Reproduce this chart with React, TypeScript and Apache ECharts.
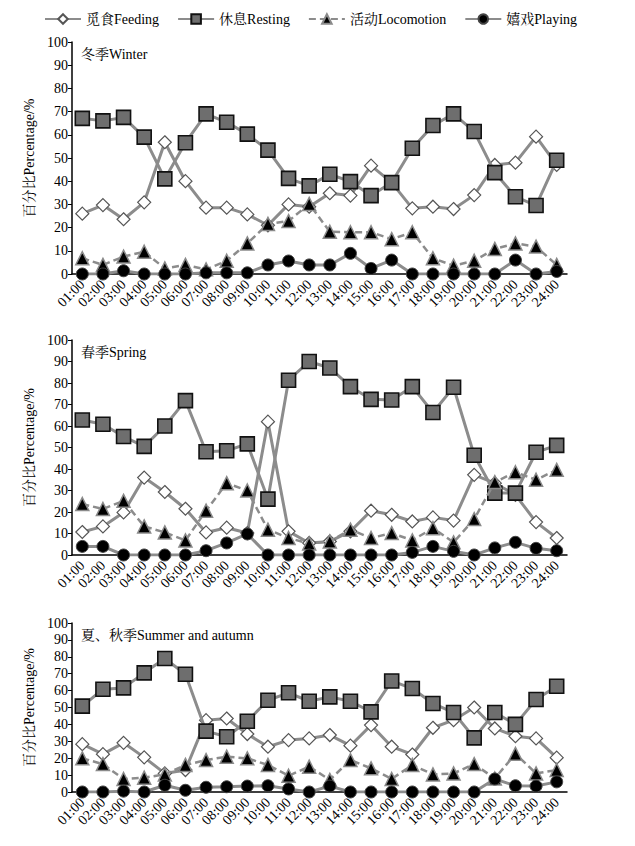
import React, { useEffect, useRef } from "react";
import * as echarts from "echarts";

const hours = ["01:00","02:00","03:00","04:00","05:00","06:00","07:00","08:00","09:00","10:00","11:00","12:00","13:00","14:00","15:00","16:00","17:00","18:00","19:00","20:00","21:00","22:00","23:00","24:00"];
const yTicks = [0, 10, 20, 30, 40, 50, 60, 70, 80, 90, 100];
const seriesNames = ["觅食Feeding", "休息Resting", "活动Locomotion", "嬉戏Playing"];
const panelTitles = ["冬季Winter", "春季Spring", "夏、秋季Summer and autumn"];
const yAxisName = "百分比Percentage/%";

const winterFeeding = [26, 29.7, 23.6, 30.9, 56.8, 40, 28.6, 28.6, 25.7, 21, 30, 29, 34.8, 33.8, 46.7, 39.4, 28.3, 29, 28, 34, 47, 48, 59.2, 47];
const winterResting = [67.1, 66, 67.5, 59, 41, 56.6, 69, 65.4, 60.3, 53.4, 41.2, 38, 43, 39.8, 33.8, 39.4, 54.2, 64, 69, 61.4, 43.7, 33.3, 29.5, 49];
const winterLocomotion = [6.8, 3.9, 7.5, 9.6, 2.4, 3.9, 2, 5.7, 13.2, 21.6, 22.8, 30.2, 18.2, 18, 18, 15, 18, 6.8, 3.6, 5.7, 10.8, 13.2, 11.8, 3.9];
const winterPlaying = [0, 0, 1.4, 0, 0, 0, 0.5, 0.5, 0.5, 3.9, 5.6, 3.9, 3.9, 8.9, 2.4, 6, 0, 0, 0, 0, 0, 6, 0, 1.1];

const springFeeding = [10.7, 13.3, 19.8, 36, 29.3, 21.5, 10.5, 12.7, 10.2, 62, 11, 5.6, 6.3, 11, 20.6, 18.7, 15.6, 17.5, 16, 37.3, 33.4, 28, 15.3, 7.9];
const springResting = [62.8, 60.8, 55.1, 50.5, 60, 71.8, 48, 48.5, 51.7, 26, 81.3, 90, 87, 78.3, 72.4, 72.1, 78.3, 66.3, 78, 46.4, 28.8, 28.8, 47.8, 51];
const springLocomotion = [23.7, 21.4, 25.2, 13.3, 10.5, 6.8, 20.6, 33.4, 30, 11.8, 7.9, 5.3, 6.3, 11.8, 7.9, 10.2, 6.8, 12.5, 5.9, 16.7, 33.9, 38.5, 35, 39.6];
const springPlaying = [4, 4, 0, 0, 0, 0, 2, 5.6, 9.8, 0, 0, 0, 0, 0, 0, 0, 1.2, 4, 1.7, 0, 3.3, 5.9, 3.1, 2];

const summerFeeding = [28.3, 22.4, 29.1, 20.5, 11, 13, 42.5, 43.5, 34.3, 26.8, 30.7, 31.7, 33.7, 27.4, 39.6, 26.8, 22.2, 38, 42.5, 50, 37.6, 33, 31.7, 20.3];
const summerResting = [50.8, 60.8, 61.6, 70.5, 79, 69.7, 36, 32.7, 41.9, 54.3, 58.7, 53.7, 56.3, 53.7, 47.4, 65.7, 61.2, 52.4, 47, 32, 47, 40, 54.7, 62.6];
const summerLocomotion = [19.9, 16.5, 7.7, 8.5, 10.4, 16, 18.9, 20.9, 19.9, 16, 9.6, 15, 7.2, 18.9, 14, 7.7, 16, 10.4, 11, 16.5, 8, 22.6, 11, 13];
const summerPlaying = [0, 0, 0.5, 0, 4, 1, 2.8, 3.1, 3.5, 3.7, 1.8, 0, 3.5, 0, 0, 0, 0, 0, 0, 0, 7.7, 3.7, 3.5, 6];

const panels = [
  [winterFeeding, winterResting, winterLocomotion, winterPlaying],
  [springFeeding, springResting, springLocomotion, springPlaying],
  [summerFeeding, summerResting, summerLocomotion, summerPlaying],
];

const SERIF = "'Liberation Serif', 'Times New Roman', 'Noto Serif CJK SC', 'Noto Sans CJK SC', serif";

export default function App() {
  const ref = useRef<HTMLDivElement>(null);
  useEffect(() => {
    if (!ref.current) return;
    const chart = echarts.init(ref.current, undefined, { renderer: "svg" });
    const grids = [
      { left: 72, top: 42, width: 495, height: 232 },
      { left: 72, top: 340, width: 495, height: 215 },
      { left: 72, top: 623, width: 495, height: 169 },
    ];
    const lineColor = "#8c8c8c";
    const styles = [
      { symbol: "diamond", symbolSize: 13, item: { color: "#ffffff", borderColor: "#555", borderWidth: 1.2 }, line: { color: lineColor, width: 3, type: "solid" } },
      { symbol: "rect", symbolSize: 14, item: { color: "#6e6e6e", borderColor: "#111", borderWidth: 1.6 }, line: { color: lineColor, width: 3, type: "solid" } },
      { symbol: "triangle", symbolSize: 13, item: { color: "#000", borderColor: "#8a8a8a", borderWidth: 1.5 }, line: { color: lineColor, width: 2.5, type: [7, 4] } },
      { symbol: "circle", symbolSize: 12, item: { color: "#000", borderColor: "#444", borderWidth: 1 }, line: { color: lineColor, width: 3, type: "solid" } },
    ];
    const series: any[] = [];
    panels.forEach((data, p) => {
      data.forEach((vals, s) => {
        const st = styles[s];
        series.push({
          name: seriesNames[s],
          type: "line",
          xAxisIndex: p,
          yAxisIndex: p,
          data: vals,
          symbol: st.symbol,
          symbolSize: st.symbolSize,
          showAllSymbol: true,
          itemStyle: st.item,
          lineStyle: st.line,
          z: 2 + s,
        });
      });
    });
    chart.setOption({
      animation: false,
      textStyle: { fontFamily: SERIF },
      legend: {
        top: 7,
        left: 39,
        itemWidth: 36,
        itemHeight: 12,
        itemGap: 18,
        data: seriesNames,
        textStyle: { fontFamily: SERIF, fontSize: 14, color: "#000" },
      },
      grid: grids,
      xAxis: grids.map((_, i) => ({
        type: "category",
        gridIndex: i,
        data: hours,
        boundaryGap: true,
        axisLine: { lineStyle: { color: "#000", width: 1.5 } },
        axisTick: { inside: true, length: 5, lineStyle: { color: "#000" } },
        axisLabel: { rotate: 45, interval: 0, fontFamily: SERIF, fontSize: 14, color: "#000", margin: 8 },
        splitLine: { show: false },
      })),
      yAxis: grids.map((_, i) => ({
        type: "value",
        gridIndex: i,
        min: yTicks[0],
        max: yTicks[yTicks.length - 1],
        interval: 10,
        name: yAxisName,
        nameLocation: "middle",
        nameRotate: 90,
        nameGap: 36,
        nameTextStyle: { fontFamily: SERIF, fontSize: 14, color: "#000" },
        axisLine: { show: true, lineStyle: { color: "#000", width: 1.5 } },
        axisTick: { show: true, length: 4, lineStyle: { color: "#000" } },
        axisLabel: { fontFamily: SERIF, fontSize: 14, color: "#000", margin: 4 },
        splitLine: { show: false },
      })),
      graphic: panelTitles.map((t, i) => ({
        type: "text",
        left: 81,
        top: grids[i].top + 5,
        style: { text: t, fontFamily: SERIF, fontSize: 14, fill: "#000" },
      })),
      series,
    });
    return () => chart.dispose();
  }, []);
  return <div ref={ref} style={{ position: "fixed", left: 0, top: 0, width: 635, height: 846, background: "#fff" }} />;
}
